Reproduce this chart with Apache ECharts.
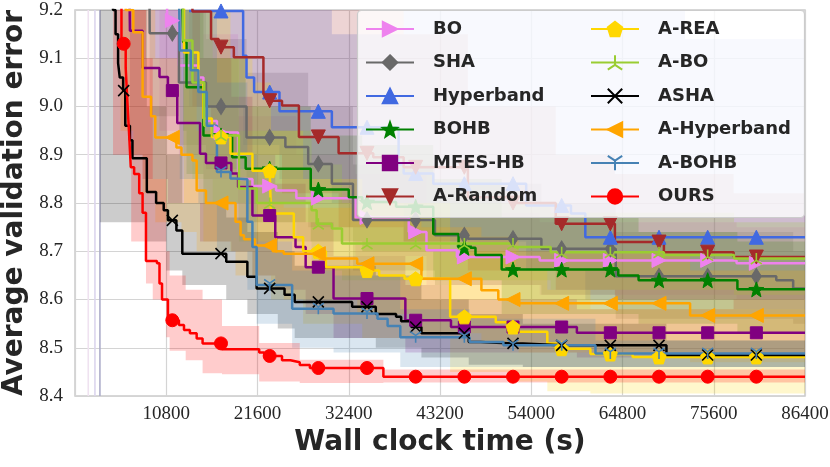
<!DOCTYPE html>
<html><head><meta charset="utf-8">
<script src="https://cdn.jsdelivr.net/npm/echarts@6/dist/echarts.min.js"></script>
<style>html,body{margin:0;padding:0;background:#fff}#c{width:830px;height:467px}</style>
</head><body><div id="c"></div>
<script>
const NAMES = ['BO','SHA','Hyperband','BOHB','MFES-HB','A-Random','A-REA','A-BO','ASHA','A-Hyperband','A-BOHB','OURS'];
const MARKER_X = [5760,11520,17280,23040,28800,34560,40320,46080,51840,57600,63360,69120,74880,80640];
const EDGE_X = [1570, 2360, 2950];

// mean curves [time, error] (step-post)
const BO_pts = [[10000,9.3],[10900,9.178],[12300,9.085],[14600,9.06],[15200,8.97],[16800,8.946],[19300,8.85],[21000,8.835],[23800,8.826],[26200,8.81],[33200,8.77],[39500,8.74],[41600,8.702],[45200,8.688],[55000,8.681],[78300,8.675]];
const SHA_pts = [[8800,9.3],[8840,9.152],[12300,9.05],[15500,9.0],[20300,8.936],[24900,8.916],[27600,8.881],[30400,8.84],[32900,8.765],[42600,8.733],[46500,8.726],[55200,8.705],[64000,8.648],[83000,8.64],[85000,8.623]];
const HB_pts = [[13500,9.198],[19900,9.105],[20300,9.06],[21200,9.03],[24200,8.99],[30400,8.957],[38300,8.88],[38900,8.861],[42400,8.84],[53400,8.795],[58700,8.778],[60400,8.729]];
const BOHB_pts = [[12600,9.3],[12800,9.133],[13200,9.04],[15200,8.94],[18600,8.895],[20200,8.871],[27900,8.828],[32400,8.812],[34000,8.802],[38000,8.792],[42400,8.736],[45400,8.707],[47400,8.692],[50500,8.662],[64300,8.65],[66700,8.64],[78400,8.621]];
const MFES_pts = [[6400,9.3],[6500,9.157],[8000,9.08],[10000,9.061],[11000,9.033],[12100,8.966],[14800,8.902],[15500,8.883],[18500,8.861],[19300,8.833],[21000,8.774],[23700,8.729],[26100,8.709],[27300,8.667],[30600,8.602],[39100,8.557],[44500,8.543],[59400,8.531]];
const ARAND_pts = [[12500,9.3],[13900,9.197],[16100,9.14],[17000,9.123],[18800,9.102],[22300,9.026],[23000,9.012],[24500,9.002],[26500,8.937],[31200,8.903],[35300,8.895],[38900,8.874],[46500,8.812],[51500,8.8],[56900,8.757],[63900,8.719],[69700,8.698],[77950,8.688]];
const AREA_pts = [[12600,9.3],[12900,9.112],[14600,9.05],[15200,8.975],[16200,8.937],[18400,8.902],[21000,8.867],[23200,8.778],[25900,8.729],[27000,8.7],[29700,8.667],[34000,8.66],[36000,8.65],[39000,8.643],[44400,8.564],[49800,8.553],[51200,8.543],[52200,8.533],[55900,8.509],[57000,8.498],[61000,8.487],[66000,8.481]];
const ABO_pts = [[12500,9.3],[12800,9.137],[13900,9.05],[15300,8.96],[16300,8.94],[19400,8.83],[21500,8.8],[28000,8.785],[28600,8.757],[30400,8.747],[31600,8.716],[52000,8.709],[56300,8.698],[69700,8.692],[78000,8.685]];
const ASHA_pts = [[4300,9.4],[4500,9.2],[4800,9.15],[5100,9.09],[5300,9.06],[5700,9.033],[5950,8.96],[6500,8.93],[6800,8.893],[8500,8.823],[9600,8.8],[10500,8.785],[11000,8.764],[12000,8.743],[12700,8.695],[17900,8.678],[20400,8.647],[21500,8.623],[24800,8.61],[26000,8.595],[32800,8.585],[35600,8.57],[38000,8.564],[38600,8.555],[39800,8.543],[41000,8.53],[46600,8.512],[48000,8.509],[53000,8.505],[70000,8.485]];
const AHB_pts = [[5400,9.4],[6000,9.2],[6900,9.154],[8000,9.02],[9000,8.98],[9500,8.936],[12000,8.915],[12600,8.9],[13900,8.888],[14400,8.826],[15500,8.8],[19000,8.761],[19600,8.733],[20000,8.725],[21300,8.712],[23400,8.7],[24700,8.695],[28900,8.685],[33400,8.674],[41000,8.643],[48100,8.619],[50100,8.6],[52500,8.592],[72800,8.567]];
const ABOHB_pts = [[12200,9.4],[12400,9.116],[13700,9.075],[14600,9.03],[15600,8.96],[16800,8.864],[18400,8.851],[18900,8.849],[20400,8.761],[21000,8.709],[21500,8.63],[25700,8.581],[30600,8.571],[35800,8.56],[37000,8.545],[38500,8.522],[46700,8.512],[50700,8.505],[61600,8.488]];
const OURS_pts = [[4500,9.6],[5500,9.13],[6000,9.08],[6200,9.01],[6400,8.944],[6600,8.874],[7000,8.86],[7600,8.82],[8000,8.78],[8400,8.68],[9700,8.675],[10000,8.633],[10300,8.6],[11000,8.557],[12300,8.547],[12900,8.537],[13600,8.53],[14400,8.519],[15100,8.509],[17400,8.497],[21800,8.49],[22400,8.483],[24500,8.474],[25500,8.47],[26600,8.464],[27800,8.458],[36500,8.44]];

// spread bands [time, lower, upper] (step-post)
const BO_band = [[10000,8.95,9.7],[12300,8.9,9.4],[15200,8.85,9.15],[19300,8.76,8.98],[26200,8.72,8.9],[33200,8.69,8.86],[41600,8.63,8.78],[55000,8.61,8.76],[78300,8.6,8.75]];
const SHA_band = [[8840,8.98,9.4],[12300,8.92,9.2],[15500,8.87,9.14],[20300,8.8,9.07],[27600,8.75,9.0],[32900,8.66,8.88],[42600,8.63,8.84],[55200,8.61,8.8],[64000,8.56,8.74],[85000,8.55,8.7]];
const HB_band = [[13500,9.0,9.5],[19900,8.92,9.35],[24200,8.85,9.2],[30400,8.8,9.15],[38900,8.72,9.22],[53400,8.66,9.25],[60400,8.6,9.25],[72200,8.6,9.14]];
const BOHB_band = [[12800,8.95,9.6],[13200,8.86,9.3],[15200,8.8,9.1],[20200,8.76,9.0],[27900,8.72,8.94],[34000,8.7,8.92],[42400,8.64,8.85],[50500,8.57,8.77],[66700,8.55,8.74],[78400,8.53,8.72]];
const MFES_band = [[6500,8.9,9.5],[8000,8.85,9.35],[11000,8.8,9.25],[14800,8.72,9.1],[18500,8.7,9.02],[21000,8.65,8.9],[23700,8.62,8.84],[27300,8.57,8.76],[30600,8.52,8.69],[39100,8.49,8.63],[44500,8.49,8.6],[59400,8.48,8.58]];
const ARAND_band = [[13900,9.0,9.6],[16100,8.95,9.5],[18800,8.9,9.35],[24500,8.82,9.25],[31200,8.75,9.2],[38900,8.72,9.15],[46500,8.66,9.0],[56900,8.62,8.9],[63900,8.6,8.86],[77950,8.58,8.82]];
const AREA_band = [[12900,8.8,9.6],[15200,8.72,9.3],[18400,8.7,9.1],[21000,8.65,9.05],[23200,8.6,8.95],[27000,8.55,8.85],[34000,8.52,8.8],[44400,8.45,8.7],[52200,8.43,8.66],[55900,8.41,8.62],[61000,8.405,8.58]];
const ABO_band = [[12800,8.9,9.6],[13900,8.85,9.3],[16300,8.8,9.1],[19400,8.72,8.95],[28000,8.66,8.88],[31600,8.64,8.8],[56300,8.62,8.78],[78000,8.61,8.76]];
const ASHA_band = [[2950,8.76,9.9],[6500,8.76,9.3],[8500,8.72,9.0],[10800,8.66,8.9],[12700,8.63,8.8],[17900,8.6,8.77],[20400,8.57,8.74],[24000,8.54,8.7],[26000,8.52,8.67],[35600,8.5,8.65],[41000,8.48,8.6],[46600,8.465,8.57],[53000,8.46,8.55],[70000,8.46,8.515]];
const AHB_band = [[5400,8.95,9.9],[6900,8.9,9.4],[8000,8.82,9.25],[9500,8.76,9.1],[12600,8.74,9.05],[14400,8.7,8.95],[19000,8.65,8.87],[21300,8.62,8.8],[24700,8.6,8.79],[33400,8.57,8.77],[41000,8.53,8.75],[48100,8.51,8.73],[52500,8.49,8.7],[72800,8.47,8.66]];
const ABOHB_band = [[12400,8.85,9.5],[14600,8.8,9.3],[16800,8.7,9.05],[20400,8.62,8.9],[21500,8.55,8.72],[25700,8.5,8.66],[30600,8.49,8.65],[38500,8.46,8.58],[46700,8.46,8.56],[61600,8.46,8.515]];
const OURS_band = [[4500,8.9,9.9],[6650,8.72,9.5],[8400,8.633,9.1],[9200,8.6,8.85],[10800,8.522,8.7],[11200,8.494,8.65],[13100,8.474,8.62],[15100,8.447,8.6],[17400,8.445,8.545],[21800,8.43,8.51],[26600,8.427,8.475],[36500,8.428,8.455]];

const POINTS = [BO_pts,SHA_pts,HB_pts,BOHB_pts,MFES_pts,ARAND_pts,AREA_pts,ABO_pts,ASHA_pts,AHB_pts,ABOHB_pts,OURS_pts];
const BANDS = [BO_band,SHA_band,HB_band,BOHB_band,MFES_band,ARAND_band,AREA_band,ABO_band,ASHA_band,AHB_band,ABOHB_band,OURS_band];

// styles
const COLORS = ['#ee82ee','#696969','#4169e1','#008000','#800080','#a52a2a','#ffd700','#9acd32','#000000','#ffa500','#4682b4','#ff0000'];
const SYMBOLS = [
  'path://M0,0L10,5L0,10Z',
  'diamond',
  'triangle',
  'path://M5,0L6.23,3.3L9.76,3.46L7,5.65L7.94,9.05L5,7.1L2.06,9.05L3,5.65L0.24,3.46L3.77,3.3Z',
  'rect',
  'path://M0,0L10,0L5,10Z',
  'path://M5,0L9.76,3.46L7.94,9.05L2.06,9.05L0.24,3.46Z',
  'path://M5,5L5,0M5,5L0.7,7.5M5,5L9.3,7.5',
  'path://M0,0L10,10M10,0L0,10',
  'path://M10,0L0,5L10,10Z',
  'path://M5,5L5,10M5,5L0.7,2.5M5,5L9.3,2.5',
  'circle'
];
const SIZES = [14,[10,16],14,15,12,14,14,11,11,14,11,13];
const BORDERW = [1,1,1,1,1,1,1,1.6,1.6,1,1.6,1];
const EDGE_COLORS = ['#efe2f0','#dcd6ee','#aeaecb'];
const BAND_ALPHA = 0.2;

const XMIN = 0, XMAX = 86400, YMIN = 8.4, YMAX = 9.2;
const FONT_SANS = 'DejaVu Sans';
const FONT_SERIF = 'Liberation Serif';
const TXT = '#262626';

function stepVal(pts, x) { let v = null; for (const p of pts) { if (p[0] <= x) v = p[1]; else break; } return v; }
function rgba(hex, a) { const n = parseInt(hex.slice(1), 16); return 'rgba(' + (n >> 16 & 255) + ',' + (n >> 8 & 255) + ',' + (n & 255) + ',' + a + ')'; }
const clampY = v => Math.min(YMAX, Math.max(YMIN, v));

function buildMain(pts) {
  const all = pts.map(p => ({ x: p[0], y: p[1], m: false }));
  all.push({ x: XMAX, y: pts[pts.length - 1][1], m: false });
  MARKER_X.forEach(mx => { if (mx >= pts[0][0]) all.push({ x: mx, y: stepVal(pts, mx), m: true }); });
  all.sort((a, b) => (a.x - b.x) || ((a.m ? 1 : 0) - (b.m ? 1 : 0)));
  return all.map(d => d.m ? { value: [d.x, d.y] } : { value: [d.x, d.y], symbol: 'none' });
}

function bandRender(band, color) {
  return function (params, api) {
    if (params.dataIndex !== 0) return null;
    const n = band.length, pts = [];
    for (let i = 0; i < n; i++) {
      const x0 = band[i][0], x1 = i < n - 1 ? band[i + 1][0] : XMAX;
      pts.push(api.coord([x0, clampY(band[i][2])]));
      pts.push(api.coord([x1, clampY(band[i][2])]));
    }
    for (let i = n - 1; i >= 0; i--) {
      const x0 = band[i][0], x1 = i < n - 1 ? band[i + 1][0] : XMAX;
      pts.push(api.coord([x1, clampY(band[i][1])]));
      pts.push(api.coord([x0, clampY(band[i][1])]));
    }
    return { type: 'polygon', shape: { points: pts }, style: { fill: rgba(color, BAND_ALPHA) }, silent: true };
  };
}

const series = [];
series.push({
  type: 'custom', name: '_edges', z: 1, silent: true,
  data: EDGE_X.map(x => [x, YMIN]),
  renderItem: function (params, api) {
    const x = api.value(0);
    const p0 = api.coord([x, YMIN]), p1 = api.coord([x, YMAX]);
    return { type: 'line', shape: { x1: p0[0], y1: p0[1], x2: p1[0], y2: p1[1] }, style: { stroke: EDGE_COLORS[params.dataIndex], lineWidth: 1.6 } };
  }
});
BANDS.forEach((b, i) => {
  series.push({ type: 'custom', name: '_band' + i, z: 1, silent: true, data: [[XMIN, YMIN]], renderItem: bandRender(b, COLORS[i]) });
});
POINTS.forEach((p, i) => {
  series.push({
    type: 'line', name: NAMES[i], step: 'end', z: 3,
    data: buildMain(p),
    symbol: SYMBOLS[i], symbolSize: SIZES[i], showSymbol: true, showAllSymbol: true,
    lineStyle: { color: COLORS[i], width: 2.5 },
    itemStyle: { color: COLORS[i], borderColor: COLORS[i], borderWidth: BORDERW[i] },
    emphasis: { disabled: true }, silent: true
  });
});

const legendBase = {
  orient: 'vertical', top: 19, padding: 0, itemWidth: 48, itemHeight: 18, itemGap: 13.5, z: 6,
  selectedMode: false,
  textStyle: { fontFamily: FONT_SANS, fontWeight: 'bold', fontSize: 18, color: TXT, lineHeight: 20, padding: [0, 0, 0, 14] }
};

const chart = echarts.init(document.getElementById('c'), null, { renderer: 'canvas' });
chart.setOption({
  animation: false,
  backgroundColor: '#ffffff',
  grid: { left: 75, top: 10, width: 730, height: 386, show: true, borderColor: '#cacaca', borderWidth: 1.5, backgroundColor: 'transparent', outerBoundsMode: 'none', containLabel: false },
  xAxis: {
    type: 'value', min: XMIN, max: XMAX, interval: 10800,
    axisLine: { show: false }, axisTick: { show: false },
    splitLine: { show: true, lineStyle: { color: '#d4d4d4', width: 1.2 } },
    axisLabel: { margin: 9, fontFamily: FONT_SERIF, fontSize: 19, color: TXT, formatter: v => v === 0 ? '' : String(v) },
    name: 'Wall clock time (s)', nameLocation: 'middle', nameGap: 33,
    nameTextStyle: { fontFamily: FONT_SANS, fontWeight: 'bold', fontSize: 28, color: TXT }
  },
  yAxis: {
    type: 'value', min: YMIN, max: YMAX, interval: 0.1,
    axisLine: { show: false }, axisTick: { show: false },
    splitLine: { show: true, lineStyle: { color: '#d4d4d4', width: 1.2 } },
    axisLabel: { margin: 12, fontFamily: FONT_SERIF, fontSize: 19, color: TXT, formatter: v => v.toFixed(1) },
    name: 'Average validation error', nameLocation: 'middle', nameGap: 44, nameRotate: 90,
    nameTextStyle: { fontFamily: FONT_SANS, fontWeight: 'bold', fontSize: 28, color: TXT }
  },
  legend: [
    Object.assign({}, legendBase, { left: 365, data: NAMES.slice(0, 6) }),
    Object.assign({}, legendBase, { left: 590, data: NAMES.slice(6) })
  ],
  graphic: { elements: [{ type: 'rect', z: 5, silent: true, shape: { x: 357.5, y: 10.5, width: 447, height: 207, r: 4 }, style: { fill: 'rgba(255,255,255,0.8)', stroke: '#cccccc', lineWidth: 1.2 } }] },
  series: series
});
</script>
</body></html>
